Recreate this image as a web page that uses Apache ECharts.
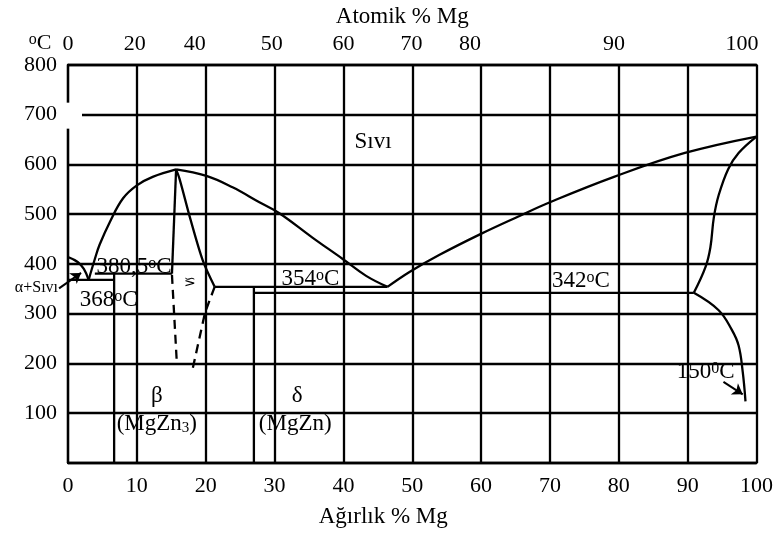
<!DOCTYPE html>
<html>
<head>
<meta charset="utf-8">
<script src="https://cdn.jsdelivr.net/npm/echarts@6/dist/echarts.min.js"></script>
<style>
  html, body { margin: 0; padding: 0; background: #fff; }
  #chart { width: 776px; height: 535px; }
</style>
</head>
<body>
<div id="chart"></div>
<script>
// Zn–Mg equilibrium phase diagram: temperature (°C) against weight % Mg,
// with the atomic % Mg scale written along the top edge.

const FONT = 'Liberation Serif';
const INK = '#000';

// Axis ranges
const weightRange = [0, 100];       // Ağırlık % Mg
const weightStep = 10;
const tempRange = [0, 800];         // °C
const tempStep = 100;

// Atomic % labels and where they sit on the weight % scale
const atomicTickPos = [0, 9.7, 18.4, 29.6, 40, 49.9, 58.4, 79.3, 97.9];
const atomicTickLabels = ['0', '20', '40', '50', '60', '70', '80', '90', '100'];

// Phase boundaries as [weight % Mg, °C]
const znLiquidus = [[0, 414], [1.4, 404], [2.3, 390], [3.0, 368]];
const betaLiquidus = [[3.0, 368], [3.9, 410], [4.6, 439], [6.1, 485], [8.0, 532], [10.0, 558], [12.3, 575], [15.7, 590]];
const betaLeftSolidus = [[15.7, 590], [15.1, 380.5]];
const betaLeftSolvus = [[15.1, 378], [15.8, 203]];
const betaRightSolidus = [[15.7, 590], [16.2, 571], [17.8, 489], [19.6, 406], [21.3, 354]];
const betaRightSolvus = [[21.3, 354], [19.9, 302], [18.1, 189]];
const deltaLiquidus = [[15.7, 590], [20.1, 577], [23.9, 554], [27.8, 524], [30.7, 502], [35.5, 453], [39.9, 410], [43.3, 376], [46.4, 354]];
const mgLiquidus = [[46.4, 354], [49.6, 384], [53.9, 418], [59.9, 460], [65.5, 496], [70.0, 524], [79.3, 575], [89.6, 623], [100, 656]];
const mgSolidus = [[100, 656], [97.4, 623], [95.9, 591], [94.5, 538], [93.8, 493], [93.3, 433], [92.6, 394], [90.9, 342]];
const mgSolvus = [[90.9, 342], [94.5, 307], [96.4, 268], [97.4, 236], [98.0, 183], [98.4, 124]];

// Isotherms (temperature, start and end composition)
const isotherm380 = { temp: 380.5, from: 3.9, to: 15.1 };
const isotherm368 = { temp: 368, from: 0, to: 6.7 };
const isotherm354 = { temp: 354, from: 21.3, to: 46.4 };
const isotherm342 = { temp: 342, from: 27.0, to: 90.9 };

// Compound lines reaching down to the composition axis
const mgZn3Line = [[6.7, 380.5], [6.7, 0]];
const mgZnLine = [[27.0, 354], [27.0, 0]];

// Pointer arrows
const alphaArrow = [[-1.3, 351], [1.9, 382]];
const solvus150Arrow = [[95.2, 163], [98.0, 138]];

// Text written inside the diagram, anchored in [weight % Mg, °C]
const tempText = t => String(t).replace('.', ',') + '{s|o}C';
const annotations = [
  { text: 'S\u0131v\u0131', at: [44.3, 646] },
  { text: tempText(isotherm380.temp), at: [9.6, 394] },
  { text: tempText(isotherm368.temp), at: [5.9, 327] },
  { text: tempText(isotherm354.temp), at: [35.2, 370] },
  { text: tempText(isotherm342.temp), at: [74.5, 366] },
  { text: '150{s|0}C', at: [92.6, 183] },
  { text: '\u03b2', at: [12.9, 134] },
  { text: '(MgZn{b|3})', at: [12.9, 79] },
  { text: '\u03b4', at: [33.3, 134] },
  { text: '(MgZn)', at: [33.0, 79] }
];
const alphaText = { text: '\u03b1+S\u0131v\u0131', at: [-1.45, 353] };
const epsilonMark = { text: '\u2273', at: [17.7, 365] };

const isoLine = iso => [[iso.from, iso.temp], [iso.to, iso.temp]];

function boundary(data, opts) {
  opts = opts || {};
  return {
    type: 'line',
    data: data,
    symbol: 'none',
    silent: true,
    animation: false,
    smooth: opts.smooth || false,
    lineStyle: { color: INK, width: 2.3, type: opts.dashed ? [9, 6] : 'solid' }
  };
}

function arrow(coords) {
  return {
    type: 'lines',
    coordinateSystem: 'cartesian2d',
    clip: false,
    silent: true,
    animation: false,
    symbol: ['none', 'arrow'],
    symbolSize: 10,
    lineStyle: { color: INK, width: 2, opacity: 1 },
    data: [{ coords: coords }]
  };
}

const richSup = {
  s: { fontFamily: FONT, fontSize: 16, fill: INK, verticalAlign: 'top' },
  b: { fontFamily: FONT, fontSize: 15, fill: INK, verticalAlign: 'bottom' }
};

const chart = echarts.init(document.getElementById('chart'));

const axisLine = { show: true, lineStyle: { color: INK, width: 2.3 } };
const gridLine = { show: true, lineStyle: { color: INK, width: 2.3, type: 'solid' } };

chart.setOption({
  animation: false,
  backgroundColor: '#fff',
  grid: { left: 68, right: 18, top: 57, bottom: 72, containLabel: false },
  xAxis: [
    {
      type: 'value',
      position: 'bottom',
      min: weightRange[0], max: weightRange[1], interval: weightStep,
      axisLine: axisLine,
      axisTick: { show: false },
      splitLine: gridLine,
      axisLabel: { color: INK, fontFamily: FONT, fontSize: 22, margin: 12 },
      name: 'A\u011f\u0131rl\u0131k % Mg',
      nameLocation: 'middle',
      nameGap: 42,
      nameTextStyle: { color: INK, fontFamily: FONT, fontSize: 23, padding: [0, 58, 0, 0] }
    },
    {
      type: 'value',
      position: 'top',
      min: weightRange[0], max: weightRange[1], interval: weightStep,
      axisLine: axisLine,
      axisTick: { show: false },
      splitLine: { show: false },
      axisLabel: {
        color: INK, fontFamily: FONT, fontSize: 22, margin: 10,
        customValues: atomicTickPos,
        formatter: v => {
          const i = atomicTickPos.indexOf(v);
          return i >= 0 ? atomicTickLabels[i] : '';
        }
      },
      name: 'Atomik % Mg',
      nameLocation: 'middle',
      nameGap: 31,
      nameTextStyle: { color: INK, fontFamily: FONT, fontSize: 23, padding: [0, 20, 0, 0] }
    }
  ],
  yAxis: {
    type: 'value',
    min: tempRange[0], max: tempRange[1], interval: tempStep,
    axisLine: axisLine,
    axisTick: { show: false },
    splitLine: gridLine,
    axisLabel: {
      color: INK, fontFamily: FONT, fontSize: 22, margin: 11,
      formatter: v => (v === 0 ? '' : String(v))
    }
  },
  series: [
    boundary(znLiquidus, { smooth: 0.4 }),
    boundary(betaLiquidus, { smooth: 0.4 }),
    boundary(betaLeftSolidus),
    boundary(betaLeftSolvus, { dashed: true }),
    boundary(betaRightSolidus, { smooth: 0.3 }),
    boundary(betaRightSolvus, { dashed: true }),
    boundary(deltaLiquidus, { smooth: 0.4 }),
    boundary(mgLiquidus, { smooth: 0.4 }),
    boundary(mgSolidus, { smooth: 0.4 }),
    boundary(mgSolvus, { smooth: 0.4 }),
    boundary(isoLine(isotherm380)),
    boundary(isoLine(isotherm368)),
    boundary(isoLine(isotherm354)),
    boundary(isoLine(isotherm342)),
    boundary(mgZn3Line),
    boundary(mgZnLine),
    arrow(alphaArrow),
    arrow(solvus150Arrow)
  ]
});

const toPx = p => chart.convertToPixel({ seriesIndex: 0 }, p);

const graphics = annotations.map(a => {
  const p = toPx(a.at);
  return {
    type: 'text', x: p[0], y: p[1], z: 50, silent: true,
    style: {
      text: a.text, fontFamily: FONT, fontSize: 23, fill: INK,
      align: 'center', verticalAlign: 'middle', rich: richSup
    }
  };
});

const pa = toPx(alphaText.at);
graphics.push({
  type: 'text', x: pa[0], y: pa[1], z: 50, silent: true,
  style: { text: alphaText.text, fontFamily: FONT, fontSize: 16, fill: INK, align: 'right', verticalAlign: 'middle' }
});

const pe = toPx(epsilonMark.at);
graphics.push({
  type: 'text', x: pe[0], y: pe[1], z: 50, silent: true, scaleY: -1,
  style: { text: epsilonMark.text, fontFamily: 'DejaVu Sans', fontSize: 14, fill: INK, align: 'center', verticalAlign: 'middle' }
});

// Unit mark above the temperature axis
const plotTop = toPx([0, tempRange[1]]);
graphics.push({
  type: 'text', x: plotTop[0] - 28, y: plotTop[1] - 22, z: 50, silent: true,
  style: { text: '{s|o}C', fontFamily: FONT, fontSize: 22, fill: INK, align: 'center', verticalAlign: 'middle', rich: richSup }
});

// Break in the temperature axis around 700 °C
const axisBreak = toPx([0, 700]);
graphics.push({
  type: 'rect', z: 60, silent: true,
  shape: { x: axisBreak[0] - 7, y: axisBreak[1] - 12, width: 21, height: 26 },
  style: { fill: '#fff' }
});

chart.setOption({ graphic: graphics });
</script>
</body>
</html>
